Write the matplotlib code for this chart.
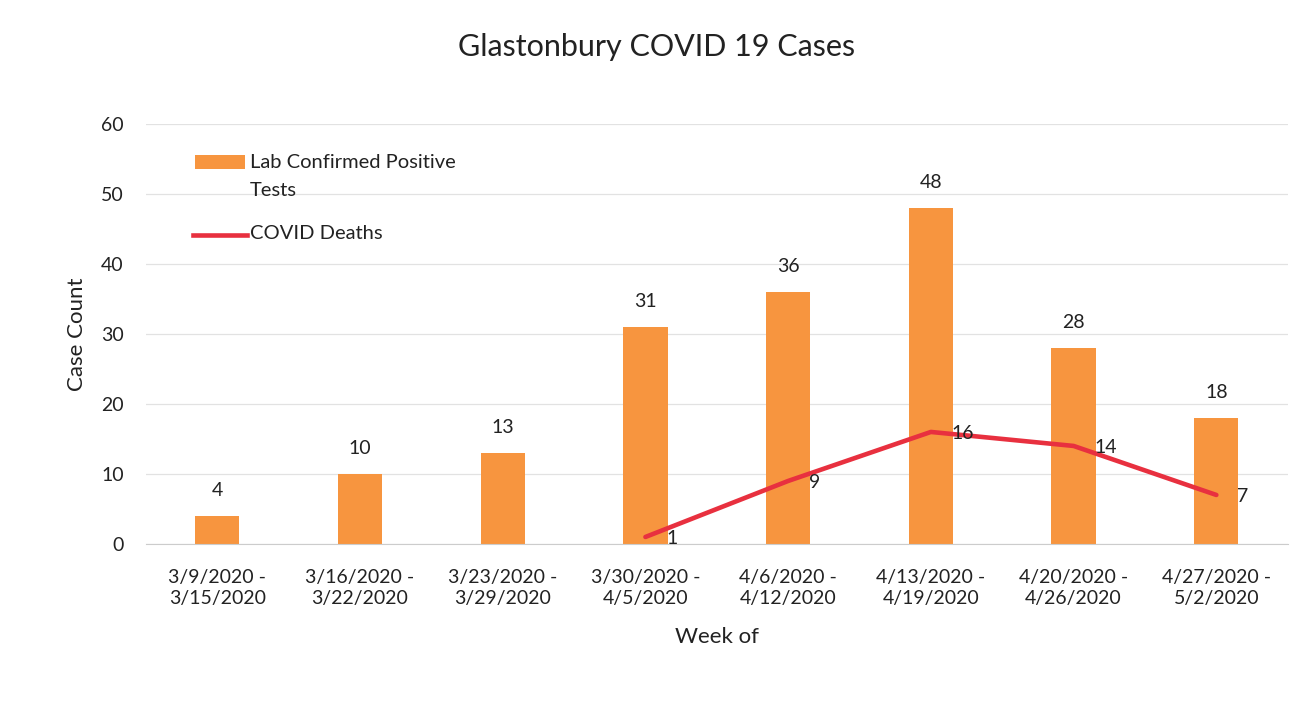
import numpy as np
import matplotlib.pyplot as plt
from matplotlib.patches import Rectangle
from matplotlib.lines import Line2D

weeks = ['3/9/2020 -\n3/15/2020', '3/16/2020 -\n3/22/2020', '3/23/2020 -\n3/29/2020',
         '3/30/2020 -\n4/5/2020', '4/6/2020 -\n4/12/2020', '4/13/2020 -\n4/19/2020',
         '4/20/2020 -\n4/26/2020', '4/27/2020 -\n5/2/2020']
positives = [4, 10, 13, 31, 36, 48, 28, 18]
deaths = [np.nan, np.nan, np.nan, 1, 9, 16, 14, 7]

bar_color = '#F7953F'
line_color = '#E8303F'
txt = '#222222'

plt.rcParams['font.family'] = ['Lato', 'DejaVu Sans']

W, H = 1314, 712
fig = plt.figure(figsize=(W / 100, H / 100), dpi=100)
ax = fig.add_axes([0.111, 0.236, 0.869, 0.590])

x = np.arange(len(weeks))
ax.bar(x, positives, width=0.31, color=bar_color, zorder=2)
ax.plot(x, deaths, color=line_color, lw=3.3, solid_capstyle='round', zorder=3)

for xi, v in zip(x, positives):
    ax.annotate(str(v), (xi, v), xytext=(0, 12), textcoords='offset points',
                ha='center', va='bottom', fontsize=14, color=txt)
for xi, v in zip(x, deaths):
    if not np.isnan(v):
        ax.annotate(str(int(v)), (xi, v), xytext=(15, -1), textcoords='offset points',
                    ha='left', va='center', fontsize=14, color=txt)

ax.set_xlim(-0.5, len(weeks) - 0.5)
ax.set_ylim(0, 60)
ax.set_yticks(range(0, 61, 10))
ax.set_xticks(x)
ax.set_xticklabels(weeks, fontsize=14, color=txt, linespacing=1.3)
ax.tick_params(axis='y', labelsize=14, colors=txt, length=0, pad=16)
ax.tick_params(axis='x', length=0, pad=18)
ax.grid(axis='y', color='#E2E2E2', lw=0.9, zorder=0)
for s in ['top', 'right', 'left']:
    ax.spines[s].set_visible(False)
ax.spines['bottom'].set_color('#CCCCCC')

ax.set_xlabel('Week of', fontsize=16, color=txt, labelpad=14)
ax.set_ylabel('Case Count', fontsize=16, color=txt, labelpad=10)
fig.text(0.5, 1 - 47 / H, 'Glastonbury COVID 19 Cases', ha='center', va='center',
         fontsize=22, color=txt)

# legend drawn by hand to keep the Excel-like layout
fig.add_artist(Rectangle((195 / W, 1 - 169 / H), 50 / W, 14 / H,
                         transform=fig.transFigure, facecolor=bar_color, edgecolor='none'))
fig.text(250 / W, 1 - 162 / H, 'Lab Confirmed Positive', ha='left', va='center',
         fontsize=14.5, color=txt)
fig.text(250 / W, 1 - 190 / H, 'Tests', ha='left', va='center', fontsize=14.5, color=txt)
fig.add_artist(Line2D([193 / W, 247 / W], [1 - 235 / H, 1 - 235 / H],
                      transform=fig.transFigure, color=line_color, lw=3.3))
fig.text(250 / W, 1 - 233 / H, 'COVID Deaths', ha='left', va='center', fontsize=14.5, color=txt)

fig.savefig('out.png', dpi=100)
